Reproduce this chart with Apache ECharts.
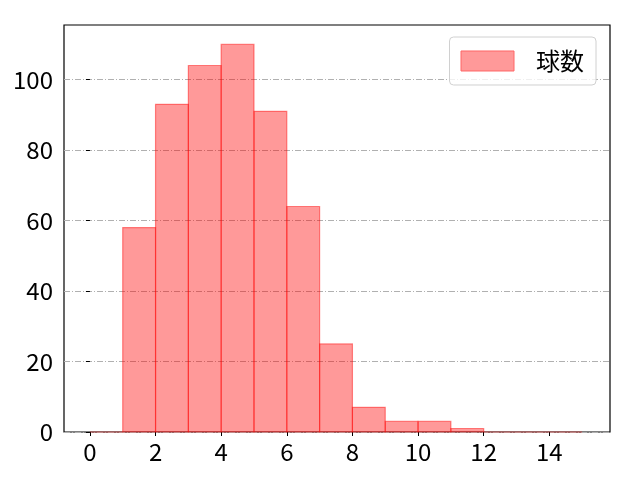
<!DOCTYPE html>
<html><head><meta charset="utf-8">
<script src="https://cdn.jsdelivr.net/npm/echarts@6/dist/echarts.min.js"></script>
<style>html,body{margin:0;padding:0;background:#fff}#c{width:640px;height:480px}</style>
</head><body><div id="c"></div>
<script>
const binEdges = [0,1,2,3,4,5,6,7,8,9,10,11,12,13,14,15];
const counts = [0,58,93,104,110,91,64,25,7,3,3,1,0,0,0];
const seriesName = '球数';
const xTicks = [0,2,4,6,8,10,12,14];
const yTicks = [0,20,40,60,80,100];

const data = counts.map((c,i)=>[binEdges[i], binEdges[i+1], c]);
const chart = echarts.init(document.getElementById('c'));
const font = '"Noto Sans CJK JP", sans-serif';
chart.setOption({
  animation:false,
  grid:{left:64,right:30,top:25,bottom:48,show:true,borderColor:'#000',borderWidth:1.2,backgroundColor:'transparent'},
  legend:{
    right:44, top:37, orient:'horizontal',
    data:[{name:seriesName, icon:'rect', itemStyle:{color:'#ff9999',borderColor:'#ff6666',borderWidth:1}}],
    itemWidth:53,itemHeight:20,itemGap:10,
    padding:[12,12,12,11],
    borderColor:'#d0d0d0',borderWidth:1,borderRadius:4,backgroundColor:'rgba(255,255,255,0.8)',
    textStyle:{fontSize:24,fontFamily:font,color:'#000',padding:[0,0,0,17]}
  },
  xAxis:{type:'value',min:-0.79,max:15.85,
    axisLine:{show:false},
    axisTick:{show:true,length:4,lineStyle:{color:'#000'},customValues:xTicks},
    axisLabel:{fontSize:24,fontFamily:font,color:'#000',margin:8,customValues:xTicks},
    splitLine:{show:false}},
  yAxis:{type:'value',min:0,max:115.5,interval:20,
    axisLine:{show:false},
    axisTick:{show:true,length:4,lineStyle:{color:'#000'},customValues:yTicks},
    axisLabel:{fontSize:24,fontFamily:font,color:'#000',margin:11,customValues:yTicks},
    splitLine:{show:true,lineStyle:{color:'#b0b0b0',width:1,type:[6,2,1,2]}}},
  series:[{
    name:seriesName,type:'custom',
    itemStyle:{color:'#ff9999'},
    renderItem:function(params,api){
      const p0 = api.coord([api.value(0),0]);
      const p1 = api.coord([api.value(1),api.value(2)]);
      return {type:'rect',shape:{x:p0[0],y:p1[1],width:p1[0]-p0[0],height:p0[1]-p1[1]},
        style:{fill:'rgba(255,0,0,0.4)',stroke:'rgba(255,0,0,0.45)',lineWidth:1.2}};
    },
    encode:{x:[0,1],y:2},
    data:data
  }]
});
</script></body></html>
